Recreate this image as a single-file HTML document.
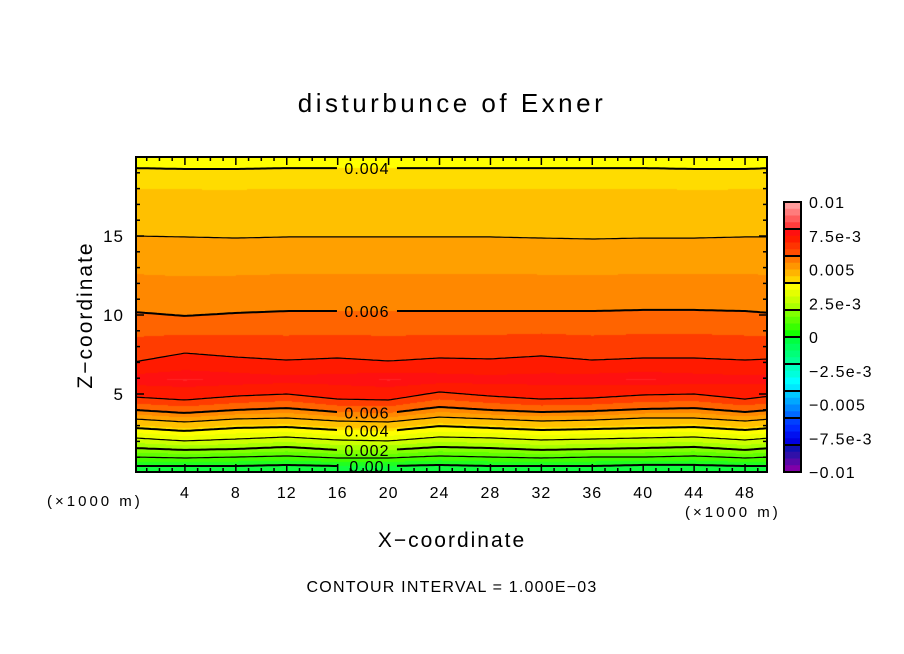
<!DOCTYPE html>
<html><head><meta charset="utf-8">
<style>
html,body{margin:0;padding:0;background:#fff;}
#wrap{position:relative;width:904px;height:654px;overflow:hidden;font-family:"Liberation Sans",sans-serif;}
canvas{position:absolute;left:0;top:0;}
svg{position:absolute;left:0;top:0;}
</style></head>
<body>
<div id="wrap">
<canvas id="cv" width="904" height="654"></canvas>
<svg id="sv" width="904" height="654"></svg>
</div>
<script>
// ---- data ----
const xSamples = [0,4,8,12,16,20,24,28,32,36,40,44,48,50];
const lowLevels = [0.000,0.001,0.002,0.003,0.004,0.005,0.006,0.007];
const lowZ = [
 [0.44,0.44,0.44,0.51,0.44,0.44,0.51,0.44,0.44,0.44,0.51,0.51,0.44,0.44],
 [1.01,0.95,1.01,1.08,0.95,0.95,1.08,1.01,0.95,1.01,1.01,1.08,0.95,1.01],
 [1.58,1.46,1.52,1.65,1.46,1.46,1.65,1.58,1.46,1.52,1.58,1.65,1.46,1.58],
 [2.22,2.03,2.15,2.28,2.09,2.03,2.28,2.22,2.09,2.15,2.22,2.28,2.09,2.22],
 [2.85,2.66,2.85,2.91,2.72,2.66,2.97,2.85,2.72,2.78,2.85,2.91,2.72,2.85],
 [3.42,3.23,3.42,3.48,3.29,3.23,3.54,3.42,3.29,3.35,3.48,3.48,3.29,3.42],
 [3.99,3.80,3.99,4.11,3.86,3.80,4.18,3.99,3.86,3.92,4.05,4.11,3.86,3.99],
 [4.81,4.62,4.87,5.00,4.68,4.62,5.13,4.87,4.68,4.75,4.94,5.00,4.68,4.87]
];
const peakZ = 5.9;
const peakValues = [0.00772,0.00778,0.00772,0.00765,0.00768,0.00778,0.00770,0.00765,0.00768,0.00772,0.00778,0.00770,0.00765,0.00765];
const highLevels = [0.007,0.006,0.005,0.004];
const highZ = [
 [7.03,7.59,7.34,7.15,7.28,7.09,7.28,7.22,7.41,7.15,7.28,7.28,7.15,7.22],
 [10.19,9.94,10.13,10.25,10.25,10.25,10.25,10.25,10.25,10.25,10.32,10.32,10.25,10.13],
 [15.00,14.94,14.87,14.94,14.94,14.94,14.94,14.94,14.87,14.81,14.87,14.87,14.94,14.94],
 [19.30,19.24,19.24,19.30,19.30,19.30,19.30,19.30,19.30,19.30,19.30,19.24,19.24,19.30]
];
const bottomValue = -0.0002;
const topValue = 0.00392;
const xTicks = [4,8,12,16,20,24,28,32,36,40,44,48];
const yTicks = [5,10,15];
const cbLabels = ["0.01","7.5e-3","0.005","2.5e-3","0","\u22122.5e-3","\u22120.005","\u22127.5e-3","\u22120.01"];
const cbColors = ["#ff9c9c","#ff7c7c","#ff5c5c","#ff3c3c","#ff1010","#ff1c00","#ff3400","#ff4c00",
 "#ff7800","#ff9600","#ffb400","#ffd400","#ffff00","#e4ff00","#c8ff00","#aaff00",
 "#80ff00","#5cff00","#38ff00","#14ff00","#00ff40","#00ff5c","#00ff78","#00ff94",
 "#00ffc0","#00ffdc","#00ffff","#00e8ff","#00c8ff","#00a8ff","#0088ff","#0068ff",
 "#0040ff","#0028ff","#0010f0","#0000e0","#1010b0","#3010a8","#5808a8","#8000a8"];
const labels = [
 {t:"0.004",lvl:"h",i:3},{t:"0.006",lvl:"h",i:1},{t:"0.006",lvl:"l",i:6},
 {t:"0.004",lvl:"l",i:4},{t:"0.002",lvl:"l",i:2},{t:"0.00",lvl:"l",i:0}];
const labelX = 18.3;

// ---- axes ----
const X0=136,X1=767,Y0=157,Y1=472;
const xs = v => 134 + v*12.73;
const zs = v => 473 - v*15.8;
const xinv = p => (p-134)/12.73;
const zinv = p => (473-p)/15.8;

function interpX(arr,x){
  for(let k=0;k<xSamples.length-1;k++){
    if(x<=xSamples[k+1]||k==xSamples.length-2){
      const t=(x-xSamples[k])/(xSamples[k+1]-xSamples[k]);
      return arr[k]+(arr[k+1]-arr[k])*Math.max(0,Math.min(1,t));
    }
  }
}
function plotColor(v){
  const bins=[[0,"#10ff40"],[0.0005,"#20ff20"],[0.001,"#40ff00"],[0.0015,"#60ff00"],[0.002,"#84ff00"],
   [0.0025,"#a8ff00"],[0.003,"#ccff00"],[0.0035,"#ecff00"],[0.004,"#ffff00"],[0.0043,"#ffdc00"],
   [0.005,"#ffc000"],[0.0055,"#ffa000"],[0.006,"#ff8800"],[0.0065,"#ff6400"],[0.007,"#ff3c00"],
   [0.0075,"#ff1a00"],[0.00775,"#ff1010"]];
  for(const b of bins) if(v<b[0]) return b[1];
  return "#ff2424";
}
function hex(c){return [parseInt(c.substr(1,2),16),parseInt(c.substr(3,2),16),parseInt(c.substr(5,2),16)];}

// ---- fill ----
const cv=document.getElementById('cv');const ctx=cv.getContext('2d');
const img=ctx.createImageData(X1-X0,Y1-Y0);
for(let px=X0;px<X1;px++){
  const x=xinv(px+0.5);
  const nodes=[[0,bottomValue]];
  lowLevels.forEach((l,i)=>nodes.push([interpX(lowZ[i],x),l]));
  nodes.push([peakZ,interpX(peakValues,x)]);
  highLevels.forEach((l,i)=>nodes.push([interpX(highZ[i],x),l]));
  nodes.push([20,topValue]);
  for(let py=Y0;py<Y1;py++){
    const z=zinv(py+0.5);let v=nodes[nodes.length-1][1];
    for(let k=0;k<nodes.length-1;k++){
      if(z<=nodes[k+1][0]){const t=(z-nodes[k][0])/(nodes[k+1][0]-nodes[k][0]);v=nodes[k][1]+(nodes[k+1][1]-nodes[k][1])*Math.max(0,Math.min(1,t));break;}
    }
    const c=hex(plotColor(v));const o=((py-Y0)*(X1-X0)+(px-X0))*4;
    img.data[o]=c[0];img.data[o+1]=c[1];img.data[o+2]=c[2];img.data[o+3]=255;
  }
}
ctx.putImageData(img,X0,Y0);

// ---- svg ----
const NS="http://www.w3.org/2000/svg";const sv=document.getElementById('sv');
function el(tag,attrs,parent){const e=document.createElementNS(NS,tag);for(const k in attrs)e.setAttribute(k,attrs[k]);(parent||sv).appendChild(e);return e;}
function txt(s,attrs,parent){const e=el('text',attrs,parent);e.textContent=s;return e;}

const defs=el('defs',{});
const clip=el('clipPath',{id:'pc'},defs);el('rect',{x:X0,y:Y0,width:X1-X0,height:Y1-Y0},clip);
const mask=el('mask',{id:'lm'},defs);
el('rect',{x:0,y:0,width:904,height:654,fill:'#fff'},mask);
labels.forEach(L=>{
  const arr=L.lvl=='h'?highZ[L.i]:lowZ[L.i];
  const y=zs(interpX(arr,labelX));
  el('rect',{x:xs(labelX)-30,y:y-5,width:60,height:10,fill:'#000'},mask);
});
const lines=el('g',{'clip-path':'url(#pc)',mask:'url(#lm)'});


function drawLine(arr,lvl,name){
  let d='';
  for(let px=X0;px<=X1;px+=3){const x=xinv(px);d+=(d?'L':'M')+px+','+zs(interpX(arr,x)).toFixed(1);}
  const thick=Math.round(lvl*1000)%2==0;
  const p=el('path',{d:d,fill:'none',stroke:'#000','stroke-width':thick?2:1.2},lines);
  
  
}
lowLevels.forEach((l,i)=>drawLine(lowZ[i],l,'contour-low-'+l));
highLevels.forEach((l,i)=>drawLine(highZ[i],l,'contour-high-'+l));
labels.forEach(L=>{
  const arr=L.lvl=='h'?highZ[L.i]:lowZ[L.i];
  const y=zs(interpX(arr,labelX));
  const t=txt(L.t,{x:xs(labelX),y:y+6,'text-anchor':'middle','font-size':16,'letter-spacing':1,fill:'#000'});
  
  
});
// frame & ticks
const fr=el('rect',{x:X0,y:Y0,width:X1-X0,height:Y1-Y0,fill:'none',stroke:'#000','stroke-width':2});


const tg=el('g',{stroke:'#000','stroke-width':1.5});


for(let v=1;v<50;v++){const x=xs(v);const L=v%4==0?8:4;
  el('line',{x1:x,y1:Y1,x2:x,y2:Y1-L},tg);el('line',{x1:x,y1:Y0,x2:x,y2:Y0+L},tg);}
for(let v=1;v<20;v++){const y=zs(v);const L=v%5==0?8:4;
  el('line',{x1:X0,y1:y,x2:X0+L,y2:y},tg);el('line',{x1:X1,y1:y,x2:X1-L,y2:y},tg);}
xTicks.forEach(v=>{const t=txt(String(v),{x:xs(v),y:498,'text-anchor':'middle','font-size':16,'letter-spacing':1});
  });
yTicks.forEach(v=>{const t=txt(String(v),{x:124,y:zs(v)+6,'text-anchor':'end','font-size':17,'letter-spacing':1});
  });
// colorbar
const cb=el('g',{});


const CBX=784,CBY=202,CBH=270,CBW=17;
cbColors.forEach((c,i)=>{el('rect',{x:CBX,y:CBY+i*CBH/cbColors.length,width:CBW,height:CBH/cbColors.length+0.5,fill:c},cb);});
for(let g=0;g<=10;g++){el('line',{x1:CBX,x2:CBX+CBW,y1:CBY+g*27,y2:CBY+g*27,stroke:'#000','stroke-width':2},cb);}
el('rect',{x:CBX,y:CBY,width:CBW,height:CBH,fill:'none',stroke:'#000','stroke-width':2},cb);
cbLabels.forEach((s,i)=>{const t=txt(s,{x:809,y:CBY+i*CBH/8+6,'font-size':16,'letter-spacing':1.3},cb);
  });
</script>
<svg width="904" height="654" style="position:absolute;left:0;top:0;pointer-events:none">
<text x="452" y="112" text-anchor="middle" font-size="26" letter-spacing="3.5" font-family="Liberation Sans">disturbunce of Exner</text>
<text x="452" y="547" text-anchor="middle" font-size="21" letter-spacing="2" font-family="Liberation Sans">X−coordinate</text>
<text x="0" y="0" transform="translate(92,315) rotate(-90)" text-anchor="middle" font-size="21" letter-spacing="2" font-family="Liberation Sans">Z−coordinate</text>
<text x="47" y="506" font-size="15" letter-spacing="3" font-family="Liberation Sans">(×1000 m)</text>
<text x="685" y="517" font-size="15" letter-spacing="3" font-family="Liberation Sans">(×1000 m)</text>
<text x="452" y="592" text-anchor="middle" font-size="16" letter-spacing="1.2" font-family="Liberation Sans">CONTOUR INTERVAL = 1.000E−03</text>
</svg>
</body></html>
